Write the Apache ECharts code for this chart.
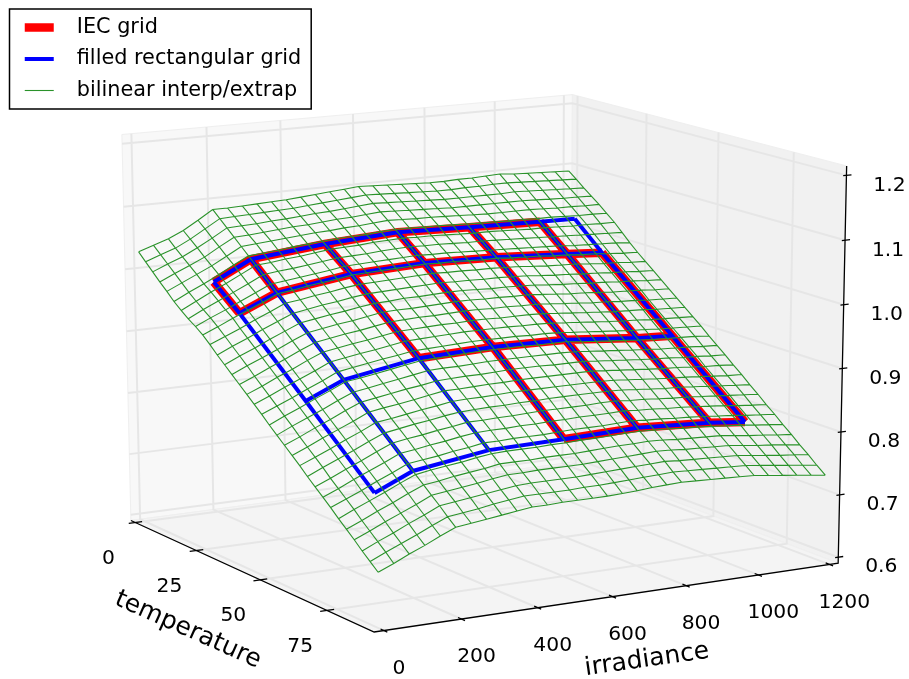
<!DOCTYPE html><html><head><meta charset="utf-8"><script src="https://cdn.jsdelivr.net/npm/echarts@6/dist/echarts.min.js"></script><style>html,body{margin:0;background:#fff}#c{width:909px;height:679px}</style></head><body><div id="c"></div><script>
// IEC / filled grid: temperature rows, irradiance columns
const Ts=[15,25,50,75],Gs=[100,200,400,600,800,1000,1100];
const Z=[[.996,1.026,1.038,1.045,1.041,1.038,1.037],[.961,.987,1.004,1.009,1.006,.999,.995],[.862,.888,.908,.912,.910,.899,.896],[.762,.788,.805,.807,.810,.803,.797]];
// green surface nodes
const GT=[0,2.81,5.63,8.44,11.25,14.06,16.88,19.69,22.5,25.31,28.13,30.94,33.75,36.56,39.38,42.19,45,47.81,50.63,53.44,56.25,59.06,61.88,64.69,67.5,70.31,73.13,75.94,78.75,81.56,84.38,87.19,90];
const GG=[0,40,80,120,160,200,240,280,320,360,400,440,480,520,560,600,640,680,720,760,800,840,880,920,960,1000,1040,1080,1120,1160,1200];
const GZ=[
[1029,1037,1045,1056,1070,1085,1085,1086,1087,1088,1089,1091,1093,1095,1097,1099,1098,1097,1096,1095,1094,1094,1095,1095,1096,1097,1095,1094,1093,1092,1091],
[1017,1026,1034,1046,1060,1074,1075,1076,1077,1078,1079,1081,1083,1085,1087,1089,1088,1087,1086,1085,1084,1084,1085,1085,1086,1086,1085,1084,1083,1082,1081],
[1005,1015,1024,1036,1049,1063,1064,1065,1067,1068,1070,1072,1073,1075,1077,1079,1078,1077,1076,1075,1074,1074,1074,1074,1074,1075,1074,1073,1072,1071,1070],
[993,1004,1014,1025,1039,1052,1053,1055,1057,1059,1060,1062,1064,1065,1067,1069,1068,1067,1066,1065,1064,1064,1064,1064,1064,1064,1063,1062,1061,1061,1060],
[982,993,1004,1015,1028,1041,1043,1045,1047,1049,1051,1052,1054,1055,1057,1059,1058,1057,1057,1056,1055,1054,1053,1053,1053,1053,1052,1051,1051,1050,1050],
[970,982,993,1005,1018,1030,1032,1034,1037,1039,1041,1043,1044,1045,1047,1048,1048,1047,1047,1046,1045,1044,1044,1043,1043,1042,1042,1041,1040,1040,1039],
[960,972,984,995,1007,1019,1021,1024,1026,1029,1032,1033,1034,1036,1037,1038,1037,1037,1036,1035,1034,1034,1033,1032,1031,1031,1030,1029,1029,1028,1028],
[951,963,974,985,996,1008,1011,1013,1016,1019,1022,1023,1024,1026,1027,1028,1027,1027,1026,1025,1025,1024,1023,1022,1021,1020,1019,1018,1017,1016,1015],
[943,954,964,975,986,997,1000,1003,1006,1009,1013,1014,1015,1016,1017,1018,1017,1017,1016,1015,1014,1013,1012,1011,1010,1009,1007,1006,1005,1004,1002],
[934,944,955,965,975,986,989,993,996,999,1003,1004,1005,1006,1007,1008,1007,1007,1006,1005,1005,1003,1002,1001,999,998,996,995,993,991,990],
[923,933,943,954,964,975,978,982,985,989,992,993,994,995,996,997,996,996,995,995,994,993,991,989,988,987,985,983,982,980,979],
[911,922,932,943,953,963,967,971,974,978,981,982,983,984,985,986,985,985,984,984,983,982,980,978,977,975,974,972,971,969,968],
[900,911,921,932,942,952,956,960,963,967,970,971,973,973,974,975,975,974,973,973,972,971,969,967,966,964,963,961,960,958,957],
[889,900,910,920,931,941,945,949,952,956,960,961,961,962,963,964,964,963,963,962,962,960,958,956,955,953,951,950,949,947,946],
[878,888,899,909,920,930,934,938,941,945,949,950,951,951,952,953,953,952,952,951,951,949,947,945,943,942,940,939,937,936,935],
[867,877,888,898,909,919,923,927,930,934,938,939,940,941,941,942,942,941,941,941,940,938,936,934,932,930,929,928,926,925,924],
[856,866,877,887,897,908,912,916,919,923,927,928,929,930,931,931,931,931,930,930,929,927,925,923,921,919,918,916,915,914,913],
[845,855,865,876,886,897,901,905,909,912,916,917,918,919,920,920,920,920,919,919,918,916,914,912,910,908,907,905,904,903,902],
[833,844,854,865,875,886,889,893,897,901,905,906,907,908,909,909,909,909,908,908,908,905,903,901,899,897,895,894,893,892,890],
[822,833,843,853,864,874,878,882,886,890,894,895,895,896,897,897,897,897,897,897,896,894,892,890,888,886,884,883,882,880,879],
[811,821,832,842,853,863,867,871,875,878,882,883,884,884,885,886,886,886,885,885,885,883,881,879,877,875,874,872,871,869,868],
[800,810,821,831,841,852,856,859,863,867,871,871,872,873,873,874,874,874,874,874,874,872,870,868,866,864,863,861,859,858,856],
[789,799,809,820,830,841,844,848,852,855,859,860,860,861,862,862,862,862,862,862,862,861,859,857,855,853,852,850,848,846,845],
[777,788,798,808,819,829,833,837,840,844,847,848,849,849,850,850,851,851,851,851,851,850,848,846,844,843,841,839,837,835,833],
[766,776,787,797,808,818,822,825,829,832,836,836,837,837,838,839,839,839,839,840,840,838,837,835,833,832,830,828,826,824,822],
[755,765,776,786,796,807,810,814,817,821,824,825,825,826,826,827,827,828,828,828,829,827,826,824,823,821,819,817,814,812,810],
[744,754,764,775,785,796,799,802,806,809,813,813,814,814,814,815,816,816,816,817,818,816,815,813,812,810,808,806,803,801,799],
[732,743,753,763,774,784,788,791,794,798,801,802,802,802,803,803,804,804,805,806,806,805,804,802,801,799,797,795,792,790,787],
[721,731,742,752,763,773,776,780,783,786,790,790,790,791,791,791,792,793,794,794,795,794,792,791,790,789,786,783,781,778,776],
[710,720,731,741,751,762,765,768,771,775,778,778,779,779,779,779,780,781,782,783,784,783,781,780,779,778,775,772,770,767,764],
[698,709,719,730,740,751,754,757,760,763,766,767,767,767,767,768,769,770,771,772,773,771,770,769,768,767,764,761,758,756,753],
[687,698,708,718,729,739,742,745,749,752,755,755,755,755,756,756,757,758,759,760,761,760,759,758,757,756,753,750,747,744,741],
[676,686,697,707,718,728,731,734,737,740,743,743,744,744,744,744,745,746,748,749,750,749,748,747,746,745,742,739,736,733,730]];
const tTicks=[0,25,50,75],gTicks=[0,200,400,600,800,1000,1200],zTicks=[.6,.7,.8,.9,1,1.1,1.2];
const legendNames=['IEC grid','filled rectangular grid','bilinear interp/extrap'];

// box limits and camera fit
const Tr=[-1.9,91.9],Gr=[-25,1225],Zr=[0.5906,1.2144];
const anchors=[[0,0,0,130,520],[1,0,0,375,632],[1,1,0,837,564],[0,1,0,572,462],[0,0,1,122,135],[0,1,1,572,95],[1,1,1,847,165]];
function fit(){const R=[];const Y=[];anchors.forEach(a=>{const[u,v,w,x,y]=a;R.push([u,v,w,1,0,0,0,0,-x*u,-x*v,-x*w]);Y.push(x);R.push([0,0,0,0,u,v,w,1,-y*u,-y*v,-y*w]);Y.push(y)});
const n=11,M=[];for(let i=0;i<n;i++){M.push(new Array(n+1).fill(0));for(let j=0;j<n;j++)R.forEach(r=>M[i][j]+=r[i]*r[j]);R.forEach((r,k)=>M[i][n]+=r[i]*Y[k])}
for(let i=0;i<n;i++){let p=i;for(let k=i;k<n;k++)if(Math.abs(M[k][i])>Math.abs(M[p][i]))p=k;[M[i],M[p]]=[M[p],M[i]];for(let k=0;k<n;k++)if(k!=i){const f=M[k][i]/M[i][i];for(let j=i;j<=n;j++)M[k][j]-=f*M[i][j]}}
return M.map((r,i)=>r[n]/r[i])}
const P=fit();
const nu=t=>(t-Tr[0])/(Tr[1]-Tr[0]),nv=g=>(g-Gr[0])/(Gr[1]-Gr[0]),nw=z=>(z-Zr[0])/(Zr[1]-Zr[0]);
function proj(t,g,z){const u=nu(t),v=nv(g),w=nw(z);const d=P[8]*u+P[9]*v+P[10]*w+1;return[(P[0]*u+P[1]*v+P[2]*w+P[3])/d,(P[4]*u+P[5]*v+P[6]*w+P[7])/d]}
const BR=[null,null];
const blue=[];Ts.forEach((t,i)=>{Gs.forEach((g,j)=>blue.push(proj(t,g,Z[i][j])));blue.push(BR)});Gs.forEach((g,j)=>{Ts.forEach((t,i)=>blue.push(proj(t,g,Z[i][j])));blue.push(BR)});
const redRows=[[0,0,5],[1,0,6],[2,2,6],[3,3,6]],redCols=[[0,0,1],[1,0,1],[2,0,2],[3,0,3],[4,0,3],[5,0,3],[6,1,3]];
const red=[];redRows.forEach(([i,a,b])=>{for(let j=a;j<=b;j++)red.push(proj(Ts[i],Gs[j],Z[i][j]));red.push(BR)});redCols.forEach(([j,a,b])=>{for(let i=a;i<=b;i++)red.push(proj(Ts[i],Gs[j],Z[i][j]));red.push(BR)});
const green=[];GT.forEach((t,i)=>{GG.forEach((g,j)=>green.push(proj(t,g,GZ[i][j]/1000)));green.push(BR)});GG.forEach((g,j)=>{GT.forEach((t,i)=>green.push(proj(t,g,GZ[i][j]/1000)));green.push(BR)});
const T0=Tr[0],T1=Tr[1],G0=Gr[0],G1=Gr[1],Z0=Zr[0],Z1=Zr[1];
const grid=[],tk=[],texts=[];
tTicks.forEach(t=>{grid.push(proj(t,G1,Z1),proj(t,G1,Z0),proj(t,G0,Z0),BR);tk.push(proj(t,G0-18,Z0),proj(t,G0+18,Z0),BR);const p=proj(t,G0,Z0);texts.push([p[0]-27,p[1]+36,String(t),0,20.3])});
gTicks.forEach(g=>{grid.push(proj(T0,g,Z1),proj(T0,g,Z0),proj(T1,g,Z0),BR);tk.push(proj(T1-1.2,g,Z0),proj(T1+1.2,g,Z0),BR);const p=proj(T1,g,Z0);texts.push([p[0]+15,p[1]+38,String(g),0,20.3])});
zTicks.forEach(z=>{grid.push(proj(T1,G1,z),proj(T0,G1,z),proj(T0,G0,z),BR);tk.push(proj(T1,G1-9,z),proj(T1,G1+14,z),BR);const p=proj(T1,G1,z);texts.push([p[0]+43,p[1]+10,z.toFixed(1),0,20.3])});
texts.push([647,660,'irradiance',8*Math.PI/180,25],[188,630,'temperature',-24*Math.PI/180,25]);
const axes=[proj(T0,G0,Z0),proj(T1,G0,Z0),proj(T1,G1,Z0),proj(T1,G1,Z1)];
const panes=[{c:'#f8f8f8',p:[[T0,G0,Z0],[T0,G1,Z0],[T0,G1,Z1],[T0,G0,Z1]]},{c:'#f1f1f1',p:[[T0,G1,Z0],[T1,G1,Z0],[T1,G1,Z1],[T0,G1,Z1]]},{c:'#f4f4f4',p:[[T0,G0,Z0],[T1,G0,Z0],[T1,G1,Z0],[T0,G1,Z0]]}];
const line=(name,data,color,width,z)=>({type:'line',name,data,z,showSymbol:false,symbol:'none',connectNulls:false,silent:true,clip:false,lineStyle:{color,width,cap:'butt',join:'miter'},itemStyle:{color}});
const c=echarts.init(document.getElementById('c'));
c.setOption({animation:false,backgroundColor:'#fff',grid:{left:0,right:0,top:0,bottom:0},xAxis:{type:'value',min:0,max:909,show:false},yAxis:{type:'value',min:0,max:679,inverse:true,show:false},
legend:{data:legendNames,orient:'vertical',left:9.5,top:9,padding:[6.5,10,6.5,11],backgroundColor:'#fff',borderColor:'#000',borderWidth:1.5,borderRadius:0,itemWidth:29,itemHeight:14,itemGap:7.5,selectedMode:false,itemStyle:{opacity:0},lineStyle:{width:'inherit'},textStyle:{fontFamily:'DejaVu Sans',fontSize:20.8,lineHeight:24,color:'#000',padding:[0,0,0,18]}},
series:[
{type:'custom',silent:true,z:1,coordinateSystem:'cartesian2d',data:panes.map((p,i)=>[i,0]),renderItem(params,api){const p=panes[params.dataIndex];return{type:'polygon',shape:{points:p.p.map(q=>api.coord(proj(q[0],q[1],q[2])))},style:{fill:p.c,stroke:'#efefef',lineWidth:1}}}},
line('grid',grid,'#e6e6e6',2,2),line('axes',axes,'#000',1.3,3),line('ticks',tk,'#000',1.3,3),
line(legendNames[0],red,'#ff0000',8.5,4),line(legendNames[1],blue,'#0000ff',4,5),line(legendNames[2],green,'#2a922a',1.1,6),
{type:'custom',silent:true,z:7,coordinateSystem:'cartesian2d',data:texts.map(t=>[t[0],t[1]]),renderItem(params,api){const t=texts[params.dataIndex];const q=api.coord([t[0],t[1]]);return{type:'text',x:q[0],y:q[1],rotation:t[3],style:{text:t[2],fontFamily:'DejaVu Sans',fontSize:t[4],fill:'#000',align:'center',verticalAlign:'middle'}}}}
]});
</script></body></html>
